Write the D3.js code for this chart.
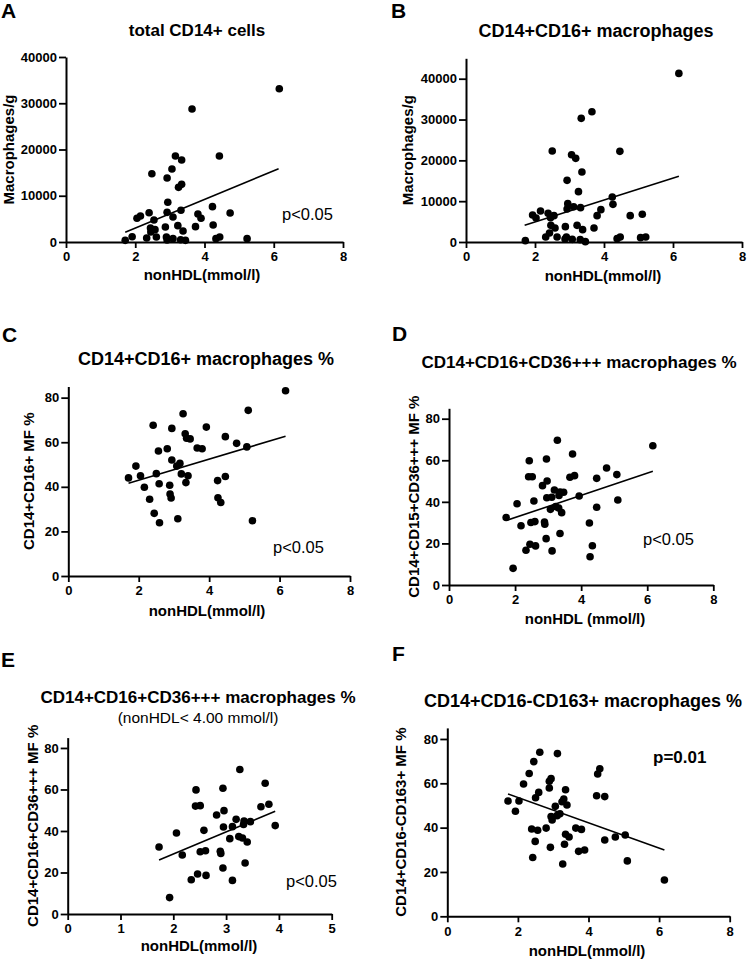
<!DOCTYPE html>
<html><head><meta charset="utf-8">
<script src="https://cdn.jsdelivr.net/npm/d3@7"></script>
<style>
body{margin:0;background:#fff}
svg{display:block}
text{font-family:"Liberation Sans",Arial,sans-serif;fill:#000}
</style>
</head><body>
<svg id="chart" width="747" height="962"></svg>
<script>
// ---------------- DATA ----------------
const xTicksWide = [0, 2, 4, 6, 8];
const xTicksNarrow = [0, 1, 2, 3, 4, 5];
const yTicksA = [0, 10000, 20000, 30000, 40000];
const yTicksB = [0, 10000, 20000, 30000, 40000];
const yTicksPct = [0, 20, 40, 60, 80];

const titlesA = ["total CD14+ cells"];
const titlesB = ["CD14+CD16+ macrophages"];
const titlesC = ["CD14+CD16+ macrophages %"];
const titlesD = ["CD14+CD16+CD36+++ macrophages %"];
const titlesE = ["CD14+CD16+CD36+++ macrophages %", "(nonHDL< 4.00 mmol/l)"];
const titlesF = ["CD14+CD16-CD163+ macrophages %"];

const yLabels = ["Macrophages/g", "Macrophages/g", "CD14+CD16+ MF %", "CD14+CD15+CD36+++ MF %", "CD14+CD16+CD36+++ MF %", "CD14+CD16-CD163+ MF %"];
const xLabels = ["nonHDL(mmol/l)", "nonHDL(mmol/l)", "nonHDL(mmol/l)", "nonHDL (mmol/l)", "nonHDL(mmol/l)", "nonHDL(mmol/l)"];
const pTexts = ["p<0.05", "", "p<0.05", "p<0.05", "p<0.05", "p=0.01"];
const panelLetters = ["A", "B", "C", "D", "E", "F"];

const pointsA = [[6.16,33150],[3.64,28760],[4.43,18600],[3.16,18600],[3.34,17730],[3.06,15780],[2.48,14770],[2.92,13840],[3.34,12470],[3.25,11820],[2.94,8580],[4.23,7640],[2.40,6340],[2.92,6410],[3.32,6850],[3.81,6050],[4.74,6270],[2.15,5620],[2.05,5120],[3.90,5120],[2.54,4760],[3.09,5410],[4.25,3680],[3.23,3530],[3.74,3320],[2.87,3240],[2.44,3030],[3.38,2380],[2.57,2670],[2.45,2160],[2.33,860],[2.61,1080],[1.91,1150],[1.71,360],[2.90,1080],[3.09,720],[2.92,430],[3.31,500],[3.45,360],[4.33,720],[4.44,1080],[5.23,720]];
const fitA = [[1.71,2090],[6.14,15860]];

const pointsB = [[6.17,41300],[3.65,31920],[3.34,30290],[2.50,22290],[4.46,22200],[3.06,21390],[3.18,20490],[3.36,17140],[2.93,15100],[3.26,12330],[4.24,11020],[4.26,9220],[2.95,9390],[3.12,8650],[3.32,8410],[2.93,8080],[3.91,7920],[2.16,7590],[2.38,7020],[1.93,6610],[2.55,6450],[2.45,5960],[2.03,5880],[3.80,6450],[4.76,6450],[5.11,6780],[2.46,4080],[3.22,4080],[2.58,3430],[2.88,3760],[3.38,3020],[3.71,3430],[2.42,2200],[2.31,1220],[2.64,1220],[2.91,1220],[3.08,650],[2.87,730],[3.31,570],[3.46,80],[4.38,820],[4.47,1220],[5.06,1060],[5.21,1220],[1.72,330]];
const fitB = [[1.70,4080],[6.17,16080]];

const pointsC = [[6.17,83.1],[5.11,74.3],[3.26,72.8],[2.41,67.6],[3.92,66.8],[2.94,66.2],[3.32,63.8],[4.46,62.5],[3.36,61.8],[3.46,61.5],[4.78,59.5],[3.66,57.4],[3.80,57.1],[2.81,57.1],[5.07,57.9],[2.56,56.1],[2.94,52.0],[3.17,50.5],[3.08,49.3],[1.92,49.3],[2.50,45.9],[3.21,45.8],[3.40,45.0],[2.05,45.0],[1.71,44.0],[4.46,44.6],[4.24,42.8],[3.34,41.9],[2.58,41.4],[2.88,40.7],[2.16,39.8],[2.89,36.8],[2.92,35.0],[4.25,35.1],[4.33,33.0],[2.31,34.4],[2.44,28.1],[3.11,25.7],[5.23,24.8],[2.59,23.9]];
const fitC = [[1.71,41.6],[6.17,62.7]];

const pointsD = [[6.17,67.0],[3.28,69.6],[3.74,63.0],[2.43,59.8],[2.95,60.6],[4.77,56.3],[3.80,52.6],[3.66,51.8],[5.08,53.1],[4.47,51.3],[2.41,52.1],[2.52,52.1],[2.97,50.0],[2.83,47.8],[3.19,45.7],[3.36,44.7],[3.47,44.6],[3.33,43.1],[3.94,42.8],[2.96,42.0],[3.11,42.2],[2.06,39.1],[5.11,40.9],[2.57,40.4],[3.23,37.7],[4.47,37.4],[3.32,37.0],[3.07,36.4],[3.41,34.8],[1.73,32.5],[2.60,30.5],[2.48,30.1],[2.89,30.3],[2.90,29.2],[4.25,29.8],[2.18,28.5],[3.36,24.8],[2.94,22.3],[2.45,19.6],[2.62,18.8],[4.34,18.9],[2.33,16.7],[3.12,16.4],[4.27,13.6],[1.94,8.0]];
const fitD = [[1.75,31.1],[6.17,54.7]];

const pointsE = [[3.26,69.6],[3.74,63.0],[2.43,59.8],[2.94,60.6],[3.81,52.9],[3.66,51.7],[2.42,52.0],[2.51,52.2],[2.96,49.8],[2.82,47.7],[3.19,45.6],[3.34,44.8],[3.46,44.5],[3.33,43.1],[3.93,42.6],[2.95,41.9],[3.12,42.1],[2.06,39.0],[2.58,40.3],[3.24,37.3],[3.31,36.6],[3.07,36.3],[3.40,34.7],[1.73,32.3],[2.61,30.5],[2.51,30.0],[2.89,30.2],[2.90,29.2],[2.17,28.4],[3.36,24.6],[2.94,22.2],[2.46,19.3],[2.62,18.6],[2.34,16.5],[3.12,16.2],[1.93,7.9]];
const fitE = [[1.73,26.0],[3.93,49.5]];

const pointsF = [[2.62,74.0],[3.12,73.4],[2.45,69.8],[4.32,66.6],[4.26,64.2],[2.32,64.4],[2.94,62.1],[2.89,60.9],[2.16,59.7],[2.89,57.9],[3.35,57.1],[2.59,55.9],[4.23,54.4],[4.46,54.0],[2.50,53.5],[3.30,52.9],[2.03,52.0],[1.72,52.0],[3.25,51.7],[3.39,50.2],[3.06,49.6],[3.19,46.3],[3.11,45.4],[2.94,45.0],[2.97,43.5],[1.93,47.4],[2.39,39.4],[2.56,38.8],[2.80,39.8],[3.64,39.8],[3.80,39.2],[3.35,37.0],[3.45,35.8],[5.04,36.7],[4.76,35.8],[4.46,34.4],[2.49,33.8],[3.32,32.5],[2.92,31.1],[3.89,29.9],[3.72,29.3],[2.42,26.5],[5.10,25.0],[3.27,23.6],[6.15,16.4]];
const fitF = [[1.72,55.2],[6.15,29.9]];

const xDomains = [[0,8],[0,8],[0,8],[0,8],[0,5],[0,8]];
const yDomains = [[0,40000],[0,45000],[0,85],[0,85],[0,85],[0,85]];

// ---------------- LAYOUT ----------------
const layout = [
  {xr:[66,343], yr:[242,57], letter:[1,18], tx:197, ty:[36], tsz:[17], ylx:14, xlx:202, xly:280, px:282, py:220, pBold:false},
  {xr:[466,742], yr:[242,58.3], letter:[391,18], tx:596, ty:[37], tsz:[18], ylx:413, xlx:603, xly:281, px:0, py:0, pBold:false},
  {xr:[68.3,350], yr:[576,386.5], letter:[2,342], tx:206, ty:[365], tsz:[18], ylx:34, xlx:207, xly:616, px:273, py:553, pBold:false},
  {xr:[449,713.3], yr:[585,408.3], letter:[392,341], tx:579, ty:[368], tsz:[17], ylx:419, xlx:585, xly:624, px:643, py:545, pBold:false},
  {xr:[67.7,331.7], yr:[914,737.6], letter:[1,667], tx:198, ty:[703,722.5], tsz:[17,15.5], ylx:38, xlx:199, xly:951, px:286, py:887, pBold:false},
  {xr:[447.3,729.7], yr:[916.3,727.9], letter:[392,661], tx:583, ty:[707], tsz:[18], ylx:406, xlx:587, xly:956, px:653, py:763, pBold:true}
];

const allPoints = [pointsA, pointsB, pointsC, pointsD, pointsE, pointsF];
const allFits = [fitA, fitB, fitC, fitD, fitE, fitF];
const allTitles = [titlesA, titlesB, titlesC, titlesD, titlesE, titlesF];
const allXTicks = [xTicksWide, xTicksWide, xTicksWide, xTicksWide, xTicksNarrow, xTicksWide];
const allYTicks = [yTicksA, yTicksB, yTicksPct, yTicksPct, yTicksPct, yTicksPct];

const svg = d3.select("#chart");

layout.forEach((L, i) => {
  const g = svg.append("g");
  const x = d3.scaleLinear().domain(xDomains[i]).range(L.xr);
  const y = d3.scaleLinear().domain(yDomains[i]).range(L.yr);

  // panel letter
  g.append("text").attr("x", L.letter[0]).attr("y", L.letter[1])
    .attr("font-size", 21).attr("font-weight", "bold").text(panelLetters[i]);

  // title lines
  allTitles[i].forEach((t, k) => {
    g.append("text").attr("x", L.tx).attr("y", L.ty[k]).attr("text-anchor", "middle")
      .attr("font-size", L.tsz[k]).attr("font-weight", k === 0 ? "bold" : "normal").text(t);
  });

  // axes
  const xAxis = d3.axisBottom(x).tickValues(allXTicks[i]).tickSize(6).tickSizeOuter(0).tickPadding(4).tickFormat(d3.format("d"));
  const yAxis = d3.axisLeft(y).tickValues(allYTicks[i]).tickSize(7).tickSizeOuter(0).tickPadding(2).tickFormat(d3.format("d"));

  const gx = g.append("g").attr("transform", `translate(0,${L.yr[0]})`).call(xAxis);
  const gy = g.append("g").attr("transform", `translate(${L.xr[0]},0)`).call(yAxis);
  [gx, gy].forEach(a => {
    a.select(".domain").attr("stroke", "#000").attr("stroke-width", 2);
    a.selectAll(".tick line").attr("stroke", "#000").attr("stroke-width", 1.8);
    a.selectAll(".tick text").attr("fill", "#000").attr("font-size", 13).attr("font-weight", "bold")
      .attr("font-family", '"Liberation Sans",Arial,sans-serif');
  });

  // axis labels
  g.append("text").attr("x", L.xlx).attr("y", L.xly).attr("text-anchor", "middle")
    .attr("font-size", 15).attr("font-weight", "bold").text(xLabels[i]);
  const cy = (L.yr[0] + L.yr[1]) / 2;
  g.append("text").attr("transform", `translate(${L.ylx},${cy}) rotate(-90)`).attr("text-anchor", "middle")
    .attr("font-size", 15).attr("font-weight", "bold").text(yLabels[i]);

  // fit line
  g.append("line")
    .attr("x1", x(allFits[i][0][0])).attr("y1", y(allFits[i][0][1]))
    .attr("x2", x(allFits[i][1][0])).attr("y2", y(allFits[i][1][1]))
    .attr("stroke", "#000").attr("stroke-width", 1.6);

  // points
  g.append("g").selectAll("circle").data(allPoints[i]).join("circle")
    .attr("cx", d => x(d[0])).attr("cy", d => y(d[1])).attr("r", 3.8).attr("fill", "#000");

  // p value
  if (pTexts[i]) {
    g.append("text").attr("x", L.px).attr("y", L.py)
      .attr("font-size", L.pBold ? 17 : 16.5).attr("font-weight", L.pBold ? "bold" : "normal").text(pTexts[i]);
  }
});
</script>
</body></html>
